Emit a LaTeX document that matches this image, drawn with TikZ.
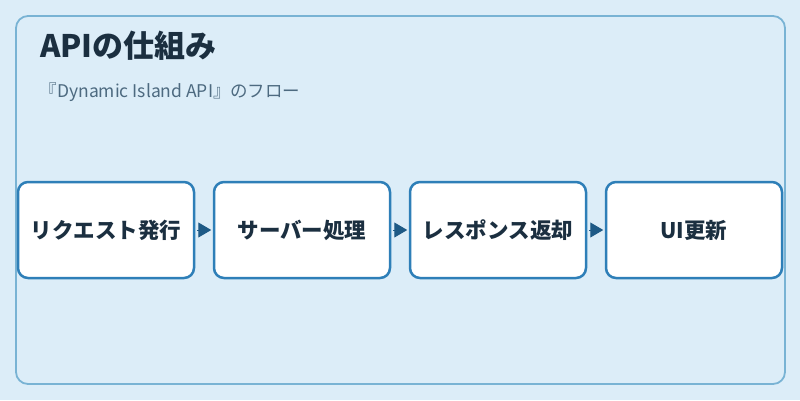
\documentclass[tikz,border=0pt]{standalone}
\usepackage{fontspec}
\setmainfont{Noto Sans CJK JP}
\usetikzlibrary{arrows.meta}
\definecolor{bgc}{HTML}{DCEDF8}
\definecolor{framec}{HTML}{79B3D4}
\definecolor{boxc}{HTML}{2E7FB8}
\definecolor{txtc}{HTML}{1B2F40}
\definecolor{subc}{HTML}{4D6A80}
\definecolor{arrc}{HTML}{1E5A86}
\tikzset{
  stepbox/.style={draw=boxc, line width=2.5pt, fill=white, rounded corners=10pt,
    minimum width=176pt, minimum height=96pt, inner sep=0pt,
    font=\fontsize{21.5}{26}\selectfont\bfseries, text=txtc},
  flow/.style={draw=arrc, line width=1pt, -{Triangle[length=13pt,width=15pt]},
    shorten <=1.5pt, shorten >=1.5pt}
}
\begin{document}
\begin{tikzpicture}[x=1pt,y=-1pt]
\useasboundingbox (0,0) rectangle (800,400);
\fill[bgc] (0,0) rectangle (800,400);
\draw[framec, line width=1.8pt, rounded corners=12pt] (16,16) rectangle (785,384);
\node[anchor=base west, inner sep=0pt, text=txtc, font=\fontsize{31}{36}\selectfont\bfseries] (title) at (40,57) {APIの仕組み};
\node[anchor=base west, inner sep=0pt, text=subc, font=\fontsize{17.5}{20}\selectfont] (sub) at (40,97.5) {\makebox[17pt][r]{『}Dynamic Island API\makebox[17pt][l]{』}のフロー};
\node[stepbox] (b1) at (106,230) {リクエスト発行};
\node[stepbox] (b2) at (302,230) {サーバー処理};
\node[stepbox] (b3) at (498,230) {レスポンス返却};
\node[stepbox] (b4) at (694,230) {UI更新};
\draw[flow] (b1.east) -- (b2.west);
\draw[flow] (b2.east) -- (b3.west);
\draw[flow] (b3.east) -- (b4.west);
\end{tikzpicture}
\end{document}
